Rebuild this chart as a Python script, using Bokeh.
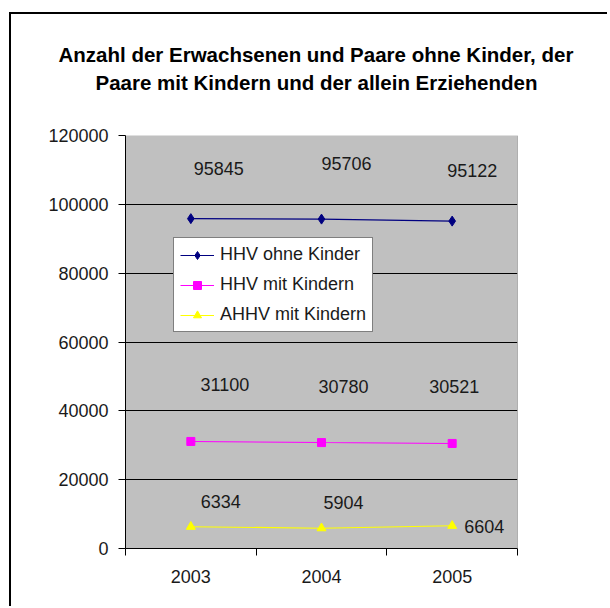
from bokeh.plotting import figure
from bokeh.models import (Range1d, FixedTicker, NumeralTickFormatter, Title, Legend,
                          LegendItem, Span, LinearAxis, Grid)
from bokeh.core.properties import value
from bokeh.embed import file_html
from bokeh.resources import INLINE

# ---- data ----
title_lines = ["Anzahl der Erwachsenen und Paare ohne Kinder, der",
               "Paare mit Kindern und der allein Erziehenden"]
years = ["2003", "2004", "2005"]
series_names = ["HHV ohne Kinder", "HHV mit Kindern", "AHHV mit Kindern"]
hhv_ohne = [95845, 95706, 95122]
hhv_mit = [31100, 30780, 30521]
ahhv_mit = [6334, 5904, 6604]
y_ticks = [0, 20000, 40000, 60000, 80000, 100000, 120000]

# ---- styles / label placement (screen px) ----
FONT = "Liberation Sans"
TXT = "#1a1a1a"
colors = ["#000080", "#FF00FF", "#FFFF00"]
markers = ["diamond", "square", "triangle"]
msizes = [10, 8, 9]
lab_dx = [[28, 25, 20], [34, 22, 2], [30, 22, 32]]
lab_dy = [[-50, -56, -51], [-57, -56, -57], [-25, -26, 1]]
title_offsets = [-67, -30]   # left offsets so that both lines centre near x=315

series = [hhv_ohne, hhv_mit, ahhv_mit]
xpos = [i + 0.5 for i in range(len(years))]

p = figure(frame_width=392, frame_height=413,
           min_border_left=114, min_border_top=121, min_border_right=90, min_border_bottom=58,
           x_range=Range1d(0, len(years)), y_range=Range1d(0, y_ticks[-1]),
           output_backend="svg", toolbar_location=None, title=None,
           x_axis_type=None, y_axis_type=None)
p.background_fill_color = "#C0C0C0"
p.border_fill_color = "white"
p.outline_line_color = None
p.styles = {"border-left": "2px solid black", "border-top": "2px solid black",
            "margin-left": "9px", "margin-top": "12px"}

yaxis = LinearAxis(ticker=FixedTicker(ticks=y_ticks), formatter=NumeralTickFormatter(format="0"),
                   major_tick_out=7, major_tick_in=0, minor_tick_out=0, minor_tick_in=0,
                   major_label_standoff=10, axis_line_color="black", major_tick_line_color="black",
                   major_label_text_font=FONT, major_label_text_font_size="18px",
                   major_label_text_color=TXT)
p.add_layout(yaxis, "left")

xaxis = LinearAxis(ticker=FixedTicker(ticks=xpos, minor_ticks=list(range(len(years) + 1))),
                   major_label_overrides={xv: yr for xv, yr in zip(xpos, years)},
                   major_tick_out=0, major_tick_in=0, minor_tick_out=7, minor_tick_in=0,
                   minor_tick_line_color="black", axis_line_color="black",
                   major_label_standoff=14,
                   major_label_text_font=FONT, major_label_text_font_size="18px",
                   major_label_text_color=TXT)
p.add_layout(xaxis, "below")

p.add_layout(Grid(dimension=1, ticker=FixedTicker(ticks=y_ticks[1:-1]),
                  grid_line_color="black", grid_line_width=1))
p.add_layout(Span(location=len(years), dimension="height", line_color="#808080", line_width=1))

items = []
for name, vals, c, m, ms in zip(series_names, series, colors, markers, msizes):
    r_line = p.line(xpos, vals, line_color=c, line_width=1.1)
    r_mark = p.scatter(xpos, vals, marker=m, size=ms, fill_color=c, line_color=c)
    items.append(LegendItem(label=name, renderers=[r_line, r_mark]))

for vals, dx, dy in zip(series, lab_dx, lab_dy):
    p.text(x=xpos, y=vals, text=[str(v) for v in vals], x_offset=dx, y_offset=dy,
           text_align="center", text_baseline="middle", text_font=value(FONT),
           text_font_size="18px", text_color=TXT)

legend = Legend(items=items, location=(48, 216), orientation="vertical",
                border_line_color="black", border_line_width=1,
                background_fill_color="white", background_fill_alpha=1.0,
                label_text_font=FONT, label_text_font_size="18px", label_text_color=TXT,
                glyph_width=34, glyph_height=20, label_height=20, spacing=9,
                padding=6, margin=0, label_standoff=6)
p.add_layout(legend)

# spacer between plot area and title, then line 2, then line 1 (stacked upward)
p.add_layout(Title(text=" ", text_font_size="1px", standoff=37), "above")
for line, off in zip(reversed(title_lines), reversed(title_offsets)):
    p.add_layout(Title(text=line, align="left", offset=off, standoff=3,
                       text_font=FONT, text_font_style="bold", text_font_size="20.5px",
                       text_color="black"), "above")

open("out.html", "w").write(file_html(p, INLINE))
